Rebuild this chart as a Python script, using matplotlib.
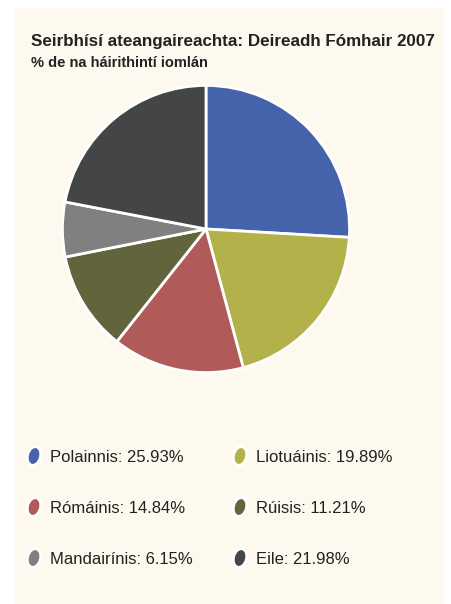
import matplotlib
matplotlib.use("Agg")
import matplotlib.pyplot as plt
from matplotlib.patches import Ellipse, Rectangle

# data
languages = ["Polainnis", "Liotuáinis", "Rómáinis", "Rúisis", "Mandairínis", "Eile"]
shares = [25.93, 19.89, 14.84, 11.21, 6.15, 21.98]
colors = ["#4463aa", "#b3b24a", "#b05a5a", "#62643c", "#808080", "#444547"]

title = "Seirbhísí ateangaireachta: Deireadh Fómhair 2007"
subtitle = "% de na háirithintí iomlán"

W, H = 451, 604
fig = plt.figure(figsize=(W / 100, H / 100), dpi=100)
fig.patch.set_facecolor("white")

# cream panel + overlay axes in pixel coords
bg = fig.add_axes([0, 0, 1, 1])
bg.set_xlim(0, W)
bg.set_ylim(H, 0)
bg.axis("off")
bg.add_patch(Rectangle((15, 8), 429, 600, facecolor="#fdf9ee", edgecolor="none"))

font = ["Liberation Sans", "DejaVu Sans"]

t = bg.text(31, 46, title, fontsize=15, fontweight="bold", family=font,
            color="#222222", va="baseline")
bg.text(31, 67, subtitle, fontsize=10.5, fontweight="bold", family=font,
        color="#222222", va="baseline")

# fit title width to the reference (31 -> ~437 px)
fig.canvas.draw()
w = t.get_window_extent(fig.canvas.get_renderer()).width
t.set_fontsize(15 * 406 / w)

# pie
cx, cy, r = 206, 229, 145
ax = fig.add_axes([(cx - r) / W, 1 - (cy + r) / H, 2 * r / W, 2 * r / H])
ax.pie(shares, colors=colors, startangle=90, counterclock=False,
       wedgeprops=dict(edgecolor="white", linewidth=2))
ax.set_aspect("equal")
ax.set_xlim(-1.01, 1.01)
ax.set_ylim(-1.01, 1.01)

# legend
col_x = [34, 240]
row_y = [456, 507, 558]
for i, (name, val, c) in enumerate(zip(languages, shares, colors)):
    x = col_x[i % 2]
    y = row_y[i // 2]
    bg.add_patch(Ellipse((x, y), 13, 19, angle=15, facecolor=c,
                         edgecolor="white", linewidth=2))
    bg.text(x + 16, y + 6, f"{name}: {val:.2f}%", fontsize=12, family=font,
            color="#222222", va="baseline")

fig.savefig("out.png", dpi=100)
